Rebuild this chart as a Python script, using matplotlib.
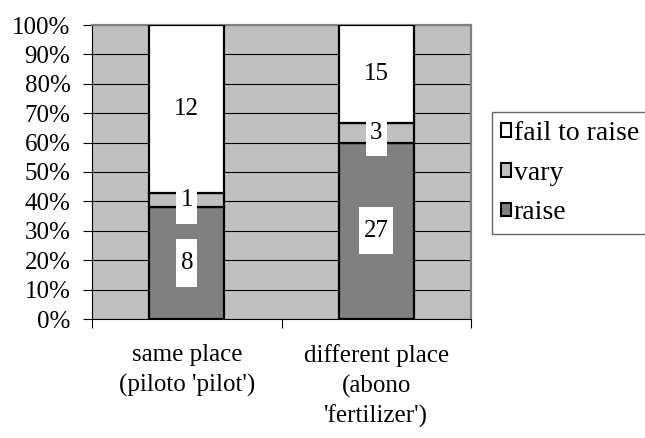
import matplotlib.pyplot as plt
from matplotlib.patches import Patch
from matplotlib.ticker import FixedLocator, PercentFormatter

plt.rcParams['font.family'] = 'serif'
plt.rcParams['font.serif'] = ['Liberation Serif', 'DejaVu Serif']
plt.rcParams['font.size'] = 18

categories = ["same place\n(piloto 'pilot')", "different place\n(abono\n'fertilizer')"]
series = ['raise', 'vary', 'fail to raise']
raise_counts = [8, 27]
vary_counts = [1, 3]
fail_counts = [12, 15]
colors = ['#808080', '#C0C0C0', '#FFFFFF']

counts = [raise_counts, vary_counts, fail_counts]
totals = [sum(c) for c in zip(*counts)]

fig = plt.figure(figsize=(6.45, 4.38), dpi=100)
ax = fig.add_axes([92 / 645, 1 - 319 / 438, 379 / 645, 294 / 438])
ax.set_facecolor('#C0C0C0')

x = list(range(len(categories)))
bottom = [0.0] * len(categories)
for name, vals, col in zip(series, counts, colors):
    frac = [v / t for v, t in zip(vals, totals)]
    ax.bar(x, frac, width=0.395, bottom=bottom, color=col,
           edgecolor='black', linewidth=1.6, zorder=3, label=name)
    for xi, v, f, b in zip(x, vals, frac, bottom):
        mid = b + f / 2
        w = 0.04 + 0.07 * len(str(v))
        ax.bar(xi, 0.16, width=w, bottom=mid - 0.08, color='white',
               linewidth=0, zorder=4)
        ax.text(xi, mid, str(v), ha='center', va='center', zorder=5)
    bottom = [b + f for b, f in zip(bottom, frac)]

ax.set_xlim(-0.5, 1.5)
ax.set_ylim(0, 1)
ax.yaxis.set_major_locator(FixedLocator([i / 10 for i in range(11)]))
ax.yaxis.set_major_formatter(PercentFormatter(1.0, decimals=0))
ax.tick_params(axis='y', direction='out', length=6.5, width=0.8, pad=9)

ax.set_xticks(x)
ax.set_xticklabels(categories, linespacing=1.42)
ax.set_xticks([-0.5, 0.5, 1.5], minor=True)
ax.tick_params(axis='x', which='major', length=0, pad=18)
ax.tick_params(axis='x', which='minor', direction='out', length=6.5, width=0.8)

ax.grid(axis='y', color='black', linewidth=0.8, zorder=1)
ax.set_axisbelow(True)
for s in ['left', 'bottom']:
    ax.spines[s].set_color('black')
    ax.spines[s].set_linewidth(0.8)
for s in ['top', 'right']:
    ax.spines[s].set_color('#808080')
    ax.spines[s].set_linewidth(1.6)

handles = [Patch(facecolor=c, edgecolor='black', linewidth=1.5)
           for c in colors[::-1]]
leg = fig.legend(handles, series[::-1], loc='upper left',
                 bbox_to_anchor=(492 / 645, 1 - 112 / 438),
                 borderaxespad=0, frameon=True, fancybox=False,
                 handlelength=0.38, handleheight=0.38, handletextpad=0.08,
                 labelspacing=0.53, borderpad=0.32, fontsize=20)
leg.get_frame().set_edgecolor('#404040')
leg.get_frame().set_linewidth(1.0)

fig.savefig('out.png', dpi=100)
